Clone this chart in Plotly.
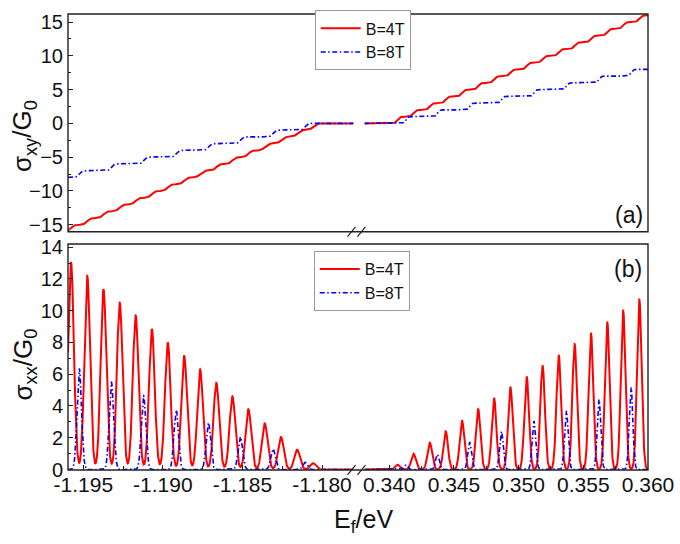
import math
import numpy as np
import plotly.graph_objects as go

# ---- data: Landau-level centres (eV) and sigma_xx peak heights (G0) ----
red_left_centres = [-1.19577, -1.19475, -1.19373, -1.19271, -1.19171, -1.19069,
                    -1.18969, -1.18866, -1.18766, -1.18664, -1.18563, -1.18463,
                    -1.18360, -1.18258, -1.18156, -1.18056]
red_left_heights = [13.05, 12.2, 11.35, 10.5, 9.7, 8.85, 8.0, 7.15, 6.3, 5.45,
                    4.6, 3.8, 2.9, 2.05, 1.25, 0.4]
red_right_centres = [0.34064, 0.34187, 0.34313, 0.34436, 0.34562, 0.34687,
                     0.34810, 0.34936, 0.35062, 0.35185, 0.35310, 0.35433,
                     0.35559, 0.35685, 0.35808, 0.35933]
red_right_heights = [0.3, 1.0, 1.7, 2.4, 3.1, 3.8, 4.5, 5.2, 5.85, 6.55, 7.2,
                     7.9, 8.6, 9.3, 10.0, 10.7]

blue_left_centres = [-1.19525, -1.19323, -1.19121, -1.18916, -1.18714, -1.18513,
                     -1.18308, -1.18106]
blue_left_heights = [6.35, 5.5, 4.65, 3.75, 2.95, 2.05, 1.3, 0.45]
blue_right_centres = [0.34129, 0.34372, 0.34621, 0.34867, 0.35118, 0.35369,
                      0.35621, 0.35869]
blue_right_heights = [0.3, 0.95, 1.7, 2.4, 3.05, 3.7, 4.4, 5.15]

# sigma_xy plateaus (G0) crossed from left to right on each branch
red_left_plateaus = [-16, -15, -14, -13, -12, -11, -10, -9, -8, -7, -6, -5, -4,
                     -3, -2, -1, 0]
red_right_plateaus = [0, 1, 2, 3, 4, 5, 6, 7, 8, 9, 10, 11, 12, 13, 14, 15, 16]
blue_left_plateaus = [-8, -7, -6, -5, -4, -3, -2, -1, 0]
blue_right_plateaus = [0, 1, 2, 3, 4, 5, 6, 7, 8]

# level broadening (eV)
red_width = 0.000178
blue_width = 0.00014

# axis ranges of the two halves of the broken energy axis
left_range = [-1.19596, -1.17802]
right_range = [0.33808, 0.36]

left_ticks = [-1.195, -1.190, -1.185, -1.180]
left_ticktext = ["-1.195", "-1.190", "-1.185", "-1.180"]
left_minor = [-1.1925, -1.1875, -1.1825]
right_ticks = [0.340, 0.345, 0.350, 0.355, 0.360]
right_ticktext = ["0.340", "0.345", "0.350", "0.355", "0.360"]
right_minor = [0.3425, 0.3475, 0.3525, 0.3575]

series_names = ["B=4T", "B=8T"]

_erf = np.vectorize(math.erf)


def sigma_xx(E, centres, heights, w):
    y = np.zeros_like(E)
    for c, h in zip(centres, heights):
        y += h * np.exp(-0.5 * ((E - c) / w) ** 2)
    return y


def sigma_xy(E, centres, plateaus, w):
    y = np.full_like(E, float(plateaus[0]))
    for i, c in enumerate(centres):
        y += (plateaus[i + 1] - plateaus[i]) * 0.5 * (1 + _erf((E - c) / (w * math.sqrt(2))))
    return y


E_left = np.linspace(left_range[0], left_range[1], 3000)
E_right = np.linspace(right_range[0], right_range[1], 3000)

RED = "#ff0000"
BLUE = "#0000ff"
red_line = dict(color=RED, width=2.0)
blue_line = dict(color=BLUE, width=1.6, dash="5px,2.5px,1.5px,2.5px")

fig = go.Figure()

# (a) Hall conductivity
fig.add_trace(go.Scatter(x=E_left, y=sigma_xy(E_left, red_left_centres, red_left_plateaus, red_width),
                         mode="lines", line=red_line, name=series_names[0],
                         xaxis="x", yaxis="y", legend="legend"))
fig.add_trace(go.Scatter(x=E_left, y=sigma_xy(E_left, blue_left_centres, blue_left_plateaus, blue_width),
                         mode="lines", line=blue_line, name=series_names[1],
                         xaxis="x", yaxis="y", legend="legend"))
fig.add_trace(go.Scatter(x=E_right, y=sigma_xy(E_right, red_right_centres, red_right_plateaus, red_width),
                         mode="lines", line=red_line, name=series_names[0], showlegend=False,
                         xaxis="x2", yaxis="y", legend="legend"))
fig.add_trace(go.Scatter(x=E_right, y=sigma_xy(E_right, blue_right_centres, blue_right_plateaus, blue_width),
                         mode="lines", line=blue_line, name=series_names[1], showlegend=False,
                         xaxis="x2", yaxis="y", legend="legend"))

# (b) longitudinal conductivity
fig.add_trace(go.Scatter(x=E_left, y=sigma_xx(E_left, red_left_centres, red_left_heights, red_width),
                         mode="lines", line=red_line, name=series_names[0],
                         xaxis="x3", yaxis="y2", legend="legend2"))
fig.add_trace(go.Scatter(x=E_left, y=sigma_xx(E_left, blue_left_centres, blue_left_heights, blue_width),
                         mode="lines", line=blue_line, name=series_names[1],
                         xaxis="x3", yaxis="y2", legend="legend2"))
fig.add_trace(go.Scatter(x=E_right, y=sigma_xx(E_right, red_right_centres, red_right_heights, red_width),
                         mode="lines", line=red_line, name=series_names[0], showlegend=False,
                         xaxis="x4", yaxis="y2", legend="legend2"))
fig.add_trace(go.Scatter(x=E_right, y=sigma_xx(E_right, blue_right_centres, blue_right_heights, blue_width),
                         mode="lines", line=blue_line, name=series_names[1], showlegend=False,
                         xaxis="x4", yaxis="y2", legend="legend2"))

FONT = "Liberation Sans, Arial, sans-serif"
TOP_DOM = [0.5226, 1.0]
BOT_DOM = [0.0, 0.4957]
LEFT_DOM = [0.0, 0.4923]
RIGHT_DOM = [0.5111, 1.0]

xtick_font = dict(family=FONT, size=21, color="#111")
ytick_font = dict(family=FONT, size=20, color="#111")

hidden_x = dict(showticklabels=False, ticks="", showgrid=False, zeroline=False, showline=False)
yax_common = dict(ticks="inside", ticklen=5, tickwidth=1.2, tickcolor="#222",
                  showgrid=False, zeroline=False, showline=False, tickfont=ytick_font,
                  ticklabelstandoff=4)
xax_common = dict(ticks="inside", ticklen=5, tickwidth=1.2, tickcolor="#222",
                  showgrid=False, zeroline=False, showline=False, tickfont=xtick_font,
                  tickmode="array")

legend_common = dict(xanchor="left", yanchor="top", bgcolor="white",
                     bordercolor="#9a9a9a", borderwidth=1,
                     font=dict(family=FONT, size=16, color="#111"),
                     tracegroupgap=0, itemwidth=40, traceorder="normal")

fig.update_layout(
    width=680, height=544,
    margin=dict(l=68, r=29, t=6, b=74),
    paper_bgcolor="white", plot_bgcolor="white",
    font=dict(family=FONT, color="#111"),
    xaxis=dict(domain=LEFT_DOM, range=left_range, anchor="y", **hidden_x),
    xaxis2=dict(domain=RIGHT_DOM, range=right_range, anchor="y", **hidden_x),
    xaxis3=dict(domain=LEFT_DOM, range=left_range, anchor="y2",
                tickvals=left_ticks, ticktext=left_ticktext,
                minor=dict(tickmode="array", tickvals=left_minor, ticks="inside",
                           ticklen=4, tickwidth=1.2, tickcolor="#222"),
                **xax_common),
    xaxis4=dict(domain=RIGHT_DOM, range=right_range, anchor="y2",
                tickvals=right_ticks, ticktext=right_ticktext,
                minor=dict(tickmode="array", tickvals=right_minor, ticks="inside",
                           ticklen=4, tickwidth=1.2, tickcolor="#222"),
                **xax_common),
    yaxis=dict(domain=TOP_DOM, range=[-16.04, 16.2], anchor="x",
               tickmode="array", tickvals=[-15, -10, -5, 0, 5, 10, 15],
               minor=dict(dtick=2.5, tick0=0, ticks="inside", ticklen=3,
                          tickwidth=1.2, tickcolor="#222"),
               **yax_common),
    yaxis2=dict(domain=BOT_DOM, range=[-0.03, 14.2], anchor="x3",
                tickmode="array", tickvals=[0, 2, 4, 6, 8, 10, 12, 14],
                minor=dict(dtick=1, tick0=0, ticks="inside", ticklen=3,
                           tickwidth=1.2, tickcolor="#222"),
                **yax_common),
    legend=dict(x=0.4254, y=1.008, **legend_common),
    legend2=dict(x=0.4237, y=0.480, **legend_common),
    showlegend=True,
)

# panel frames and axis-break marks
frame = dict(color="#222", width=1.4)
shapes = [
    dict(type="rect", xref="paper", yref="paper", x0=0, x1=1, y0=TOP_DOM[0], y1=TOP_DOM[1],
         line=frame, fillcolor="rgba(0,0,0,0)", layer="above"),
    dict(type="rect", xref="paper", yref="paper", x0=0, x1=1, y0=BOT_DOM[0], y1=BOT_DOM[1],
         line=frame, fillcolor="rgba(0,0,0,0)", layer="above"),
]
px_x = 1.0 / 583
px_y = 1.0 / 464
for ybase in (TOP_DOM[0], BOT_DOM[0]):
    for cx in (353, 363):
        xc = (cx - 68) * px_x
        shapes.append(dict(type="line", xref="paper", yref="paper",
                           x0=xc - 4 * px_x, y0=ybase - 5 * px_y,
                           x1=xc + 4 * px_x, y1=ybase + 5 * px_y,
                           line=dict(color="#222", width=1.2), layer="above"))
fig.update_layout(shapes=shapes)

annotations = [
    dict(text="σ<sub>xy</sub>/G<sub>0</sub>", xref="paper", yref="paper",
         x=-0.0755, y=0.7328, xanchor="center", yanchor="middle", textangle=-90,
         showarrow=False, font=dict(family=FONT, size=26, color="#111")),
    dict(text="σ<sub>xx</sub>/G<sub>0</sub>", xref="paper", yref="paper",
         x=-0.0755, y=0.2317, xanchor="center", yanchor="middle", textangle=-90,
         showarrow=False, font=dict(family=FONT, size=26, color="#111")),
    dict(text="E<sub>f</sub>/eV", xref="paper", yref="paper",
         x=0.5094, y=-0.112, xanchor="center", yanchor="middle",
         showarrow=False, font=dict(family=FONT, size=25, color="#111")),
    dict(text="(a)", xref="paper", yref="paper", x=0.967, y=0.5588,
         xanchor="center", yanchor="middle", showarrow=False,
         font=dict(family=FONT, size=23, color="#111")),
    dict(text="(b)", xref="paper", yref="paper", x=0.966, y=0.4418,
         xanchor="center", yanchor="middle", showarrow=False,
         font=dict(family=FONT, size=23, color="#111")),
]
fig.update_layout(annotations=annotations)

fig.write_html("out.html")
